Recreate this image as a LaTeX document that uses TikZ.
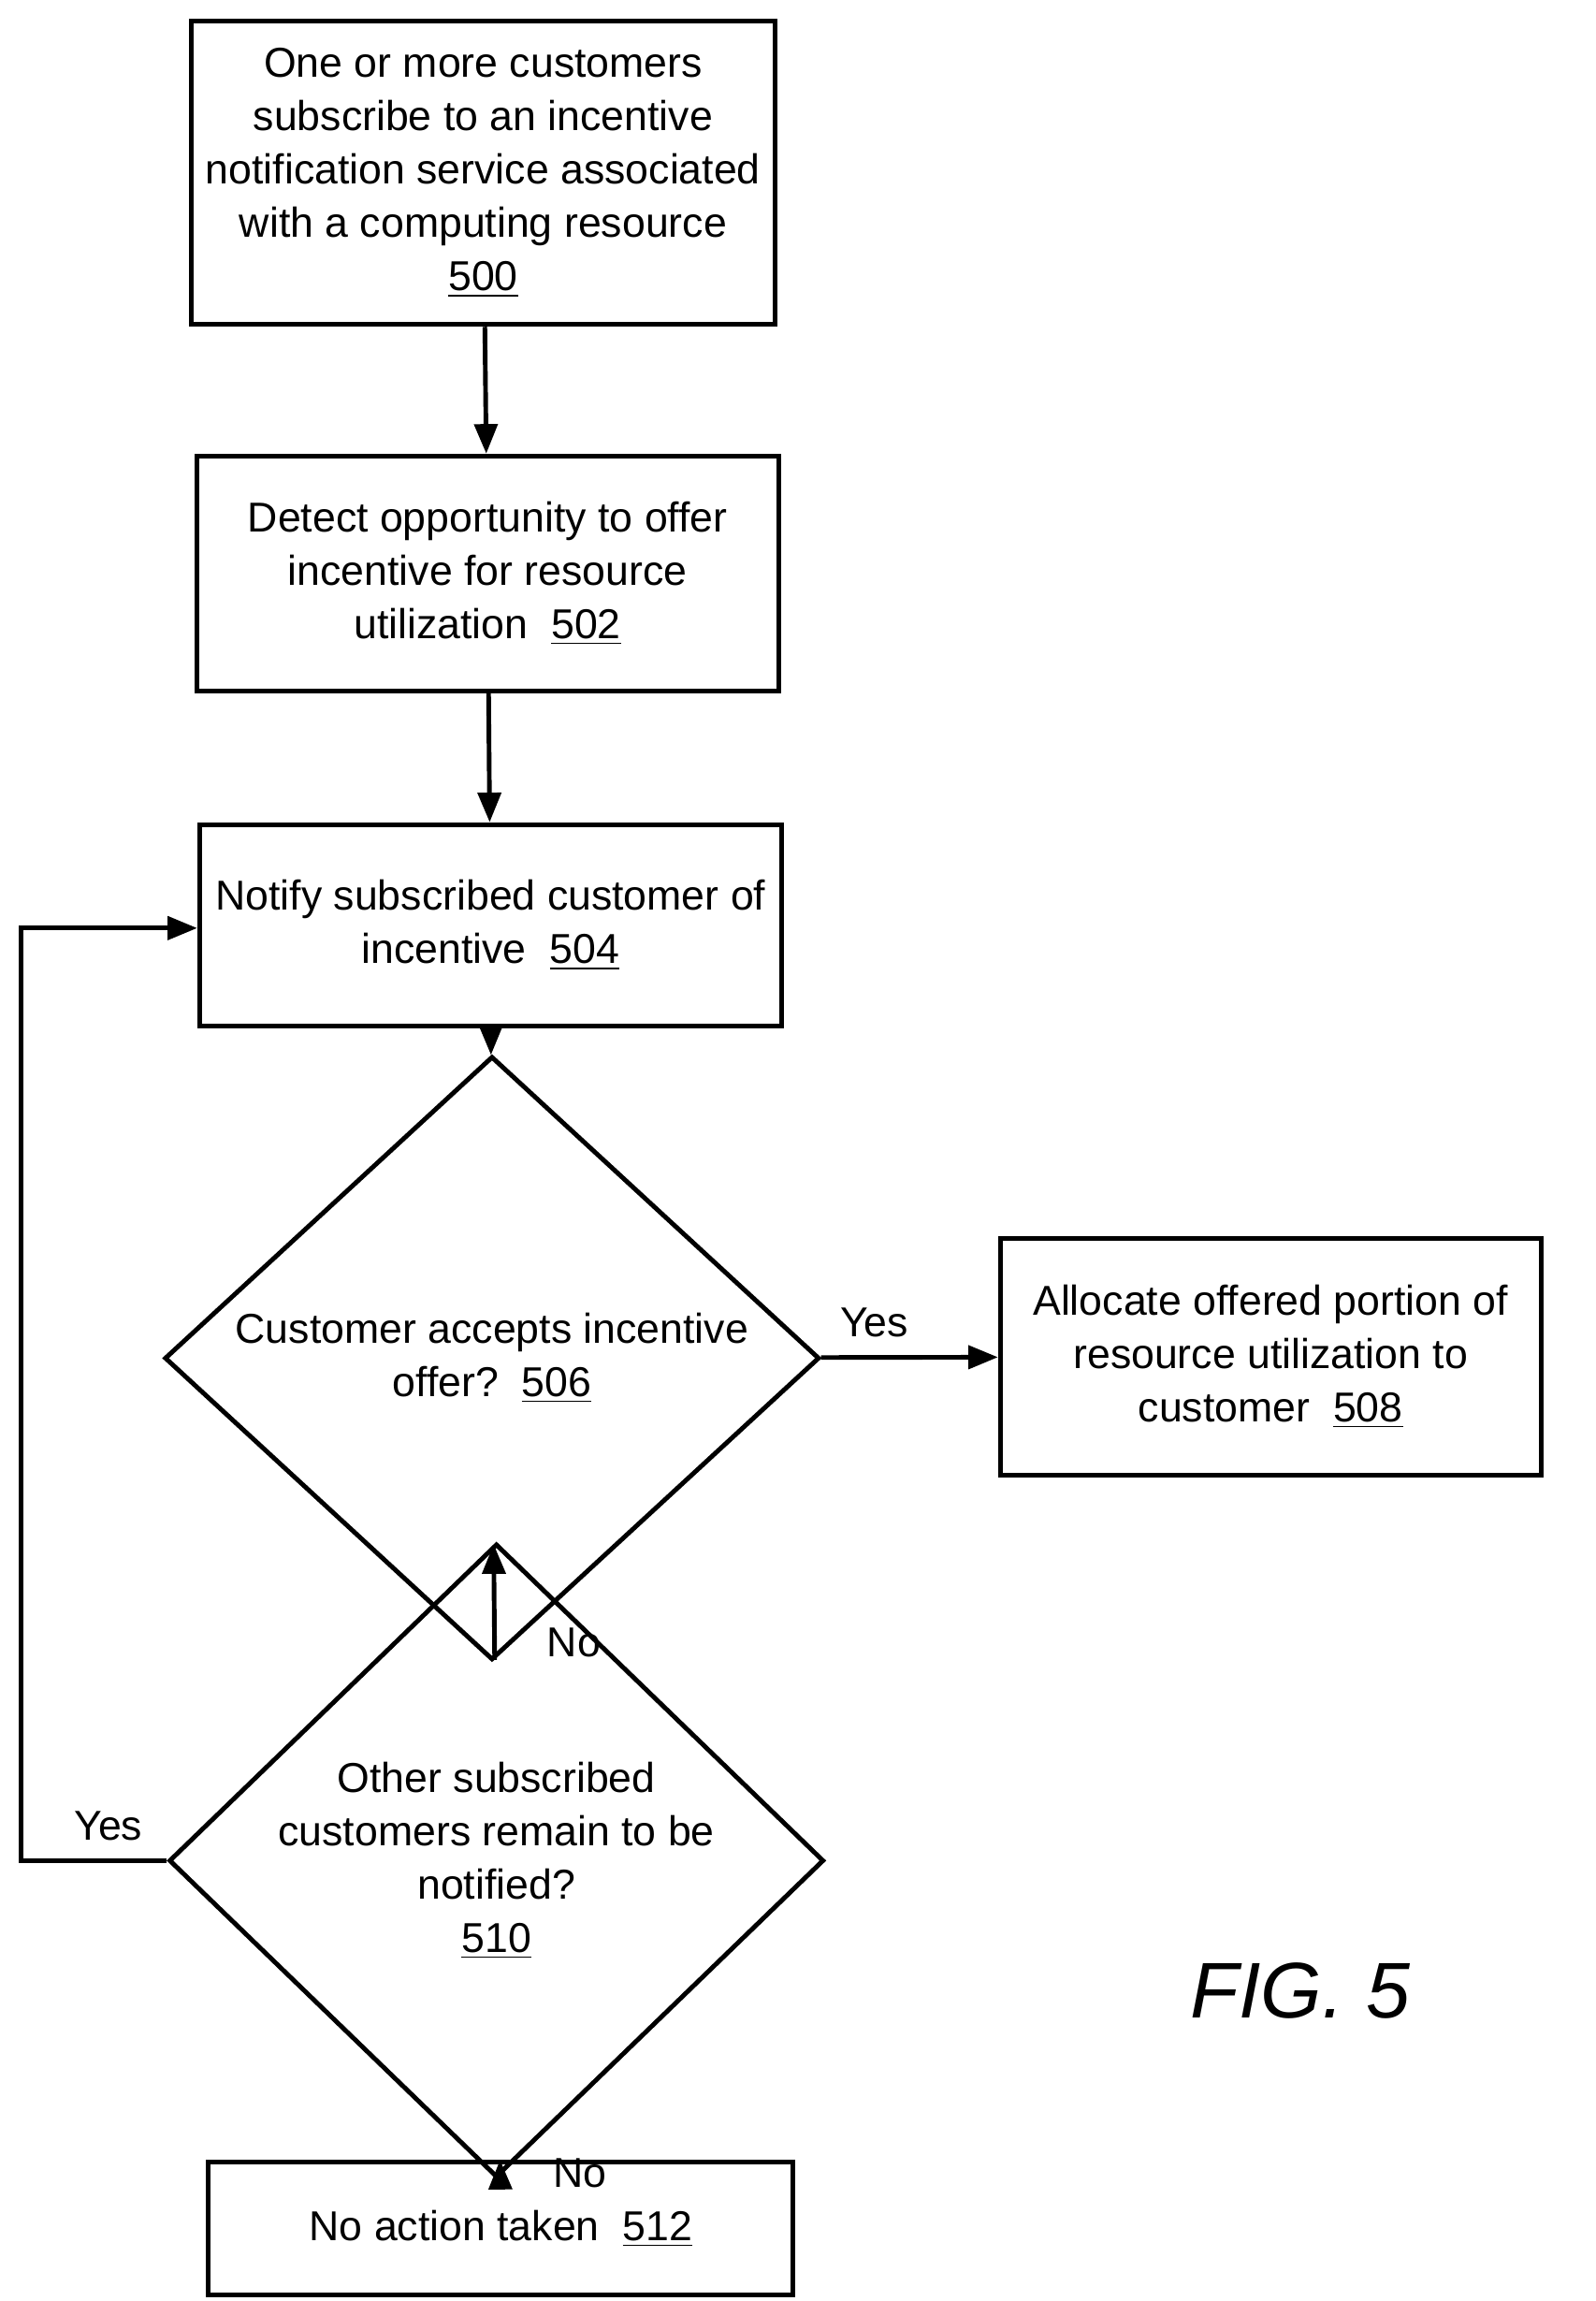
\documentclass[tikz,border=0pt]{standalone}
\usepackage{fontspec}
\setmainfont{Liberation Sans}
\usetikzlibrary{shapes.geometric,arrows.meta}
\tikzset{
  block/.style = {draw, line width=1.4pt, align=center, inner sep=0pt, font=\fontsize{12.7}{16.2}\selectfont},
  test/.style = {block, diamond, minimum width=7cm, minimum height=3.75cm},
  flow/.style = {line width=1.4pt, -{Triangle[length=9pt,width=7pt]}},
  note/.style = {font=\fontsize{12.7}{16.2}\selectfont}
}
\newcommand{\stepno}[1]{\underline{#1}}
\begin{document}
\begin{tikzpicture}[x=0.01579cm, y=-0.01579cm]
\useasboundingbox (0,0) rectangle (1080,1557);
\node[block, minimum width=6.24cm, minimum height=3.24cm] (subscribe) at (327,117) {One or more customers\\subscribe to an incentive\\notification service associated\\with a computing resource\\\stepno{500}};
\node[block, minimum width=6.22cm, minimum height=2.51cm] (detect) at (330,388) {Detect opportunity to offer\\incentive for resource\\utilization\ \ \stepno{502}};
\node[block, minimum width=6.22cm, minimum height=2.15cm] (notify) at (332,626) {Notify subscribed customer of\\incentive\ \ \stepno{504}};
\node[test] (accept) at (333,919) {Customer accepts incentive\\offer?\ \ \stepno{506}};
\node[block, minimum width=5.78cm, minimum height=2.53cm] (allocate) at (860,918) {Allocate offered portion of\\resource utilization to\\customer\ \ \stepno{508}};
\node[test] (remain) at (336,1259) {Other subscribed\\customers remain to be\\notified?\\\stepno{510}};
\node[block, minimum width=6.25cm, minimum height=1.42cm] (noaction) at (339,1508) {No action taken\ \ \stepno{512}};
\coordinate (loopbot) at (14,1259);
\coordinate (looptop) at (14,628);
% connectors
\draw[flow] (subscribe) -- (detect);
\draw[flow] (detect) -- (notify);
\draw[flow] (notify) -- (accept);
\draw[flow] (accept) -- node[note, above=2pt, pos=0.3] {Yes} (allocate);
\draw[flow] (accept) -- node[note, right=12pt, pos=0.15] {No} (remain);
\draw[flow] (remain) -- node[note, right=12pt, pos=0.2] {No} (noaction);
\draw[flow] (remain.west) -- node[note, above=2pt, pos=0.4] {Yes} (loopbot) -- (looptop) -- (notify.west |- looptop);
\node[font=\fontsize{24}{28}\selectfont\itshape] (fig) at (880,1347) {FIG. 5};
\end{tikzpicture}
\end{document}
